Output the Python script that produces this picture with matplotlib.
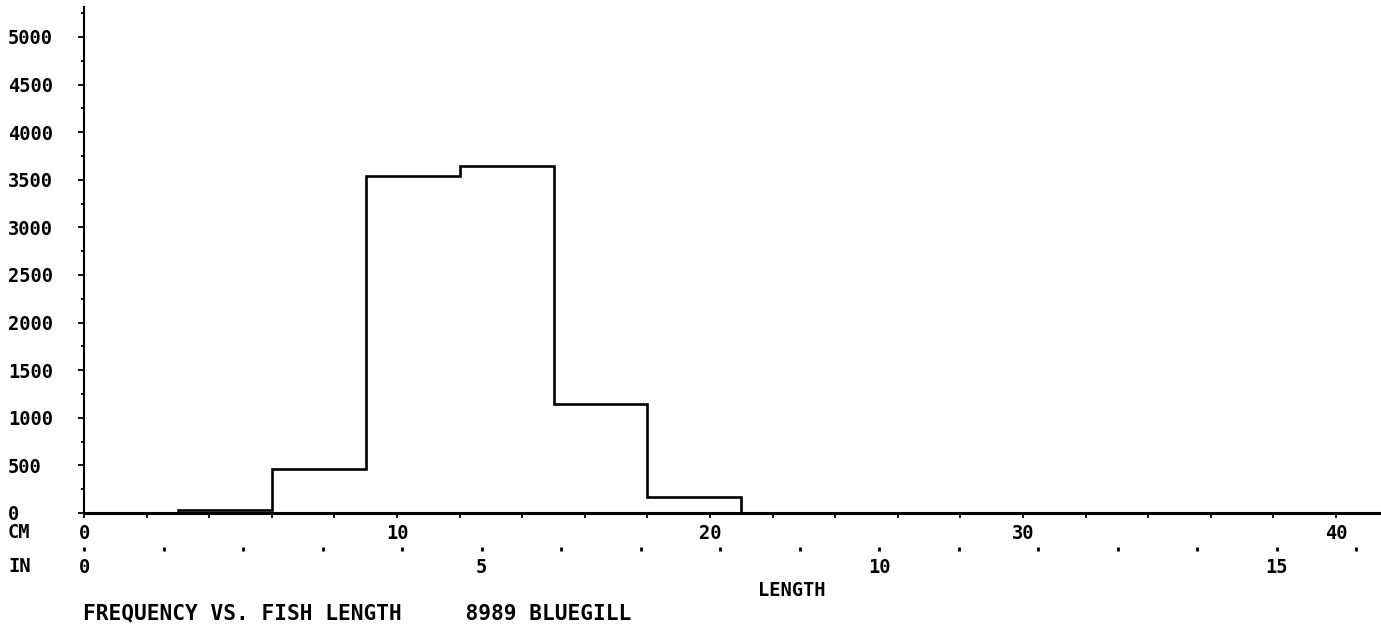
import numpy as np
import matplotlib.pyplot as plt
from matplotlib.ticker import MultipleLocator

# histogram of fish length (cm), 3 cm bins
bin_edges = [3, 6, 9, 12, 15, 18, 21]
counts = [32, 460, 3535, 3645, 1145, 172]

y_ticks = [0, 500, 1000, 1500, 2000, 2500, 3000, 3500, 4000, 4500, 5000]
cm_ticks = [0, 10, 20, 30, 40]
in_ticks = [0, 5, 10, 15]
title_text = "FREQUENCY VS. FISH LENGTH     8989 BLUEGILL"

W, H = 1381, 631
PT = 72 / 100  # points per pixel
font = "DejaVu Sans Mono"
fs = 13.5

fig = plt.figure(figsize=(W / 100, H / 100), dpi=100)
ax = fig.add_axes([84 / W, (H - 513) / H, 1 - 84 / W, (513 - 7) / H])

ax.stairs(counts, bin_edges, color="black", lw=1.9)

ax.set_xlim(0, (W - 84) / 31.3)
ax.set_ylim(0, 5315)

for s in ["top", "right"]:
    ax.spines[s].set_visible(False)
ax.spines["left"].set_linewidth(1.5)
ax.spines["bottom"].set_linewidth(2.2)

# y axis: labels left aligned near the figure edge
ax.set_yticks(y_ticks)
ax.set_yticklabels([str(v) for v in y_ticks], fontfamily=font, fontsize=fs, fontweight="bold")
ax.yaxis.set_minor_locator(MultipleLocator(250))
ax.tick_params(axis="y", which="major", length=6 * PT, width=1.3, pad=(76 - 6) * PT)
ax.tick_params(axis="y", which="minor", length=3 * PT, width=1.3)
for lab in ax.get_yticklabels():
    lab.set_horizontalalignment("left")

# cm axis
ax.set_xticks(cm_ticks)
ax.set_xticklabels([str(v) for v in cm_ticks], fontfamily=font, fontsize=fs, fontweight="bold")
ax.xaxis.set_minor_locator(MultipleLocator(2))
ax.tick_params(axis="x", which="both", length=5 * PT, width=1.3, pad=4)

# inch axis below
sec = ax.secondary_xaxis(-38 / 506, functions=(lambda x: x / 2.54, lambda x: x * 2.54))
sec.spines["bottom"].set_visible(False)
sec.set_xticks(in_ticks)
sec.set_xticklabels([str(v) for v in in_ticks], fontfamily=font, fontsize=fs, fontweight="bold")
sec.xaxis.set_minor_locator(MultipleLocator(1))
sec.tick_params(axis="x", which="both", direction="in", length=3, width=2, pad=5)

fig.text(8 / W, 1 - 533 / H, "CM", fontfamily=font, fontsize=fs, fontweight="bold", va="center", ha="left")
fig.text(8 / W, 1 - 567 / H, "IN", fontfamily=font, fontsize=fs, fontweight="bold", va="center", ha="left")
fig.text(792 / W, 1 - 590 / H, "LENGTH", fontfamily=font, fontsize=fs, fontweight="bold", va="center", ha="center")
fig.text(83 / W, 1 - 613 / H, title_text, fontfamily=font, fontsize=15.2, fontweight="bold", va="center", ha="left")

fig.savefig("out.png", dpi=100, facecolor="white")
